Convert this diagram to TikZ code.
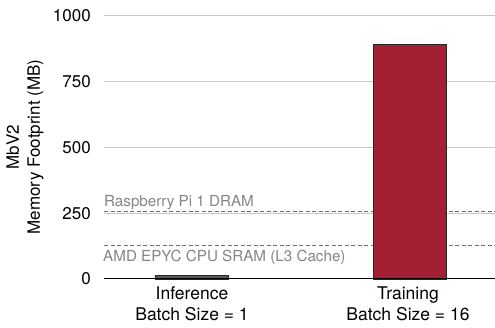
\documentclass[tikz,border=0pt]{standalone}
\usepackage{fontspec}
\setmainfont{TeX Gyre Heros}
\usetikzlibrary{positioning,calc}
\definecolor{trainred}{HTML}{A31F34}
\definecolor{infergray}{HTML}{5C5C5C}
\definecolor{limitgray}{HTML}{6E6E6E}

\begin{document}
\begin{tikzpicture}[
    x=1pt, y=0.263pt,
    tick/.style={anchor=east, inner sep=0pt, font=\fontsize{17}{20}\selectfont},
    gridline/.style={draw, color=black!22, line width=1pt},
    limit/.style={draw, color=limitgray, line width=1.5pt, dash pattern=on 4pt off 2.5pt},
    limitlabel/.style={anchor=base west, inner sep=0pt, color=black!48, font=\fontsize{15.2}{18}\selectfont},
    bar/.style={draw=black!85, line width=0.8pt},
    xlabel/.style={anchor=north, align=center, inner sep=0pt, font=\fontsize{17.5}{21}\selectfont}
]

\useasboundingbox (0,-186.3) rectangle (495,1060.8);

% Grid lines and tick labels
\foreach \v in {250,500,750,1000} {
  \draw[gridline] (104,\v) -- (495,\v);
  \node[tick] (tick\v) at (91,\v) {\v};
}
\node[tick] (tick0) at (91,0) {0};

% Memory limits
\draw[limit] (104,256) -- (495,256);
\node[limitlabel] (rpi) at (104,277) {Raspberry Pi 1 DRAM};
\draw[limit] (104,128) -- (495,128);
\node[limitlabel] (epyc) at (103,65) {AMD EPYC CPU SRAM (L3 Cache)};

% Bars
\draw[bar, fill=infergray] (155,0) rectangle (228,15);
\draw[bar, fill=trainred] (373,0) rectangle (446,891);

% Axis line
\draw[black, line width=1pt] (104,0) -- (495,0);

% Category labels
\node[xlabel] (infer) at (192,-27) {Inference\\Batch Size = 1};
\node[xlabel] (train) at (408,-27) {Training\\Batch Size = 16};

% Axis title
\node[rotate=90, align=center, font=\fontsize{17}{21}\selectfont] (ytitle) at (25,502) {MbV2\\Memory Footprint (MB)};

\end{tikzpicture}
\end{document}
